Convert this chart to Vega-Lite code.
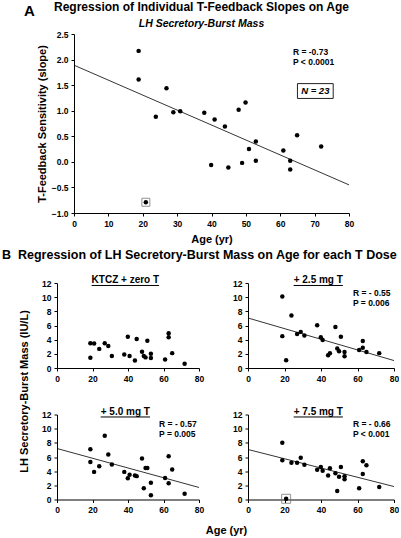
{
  "$schema": "https://vega.github.io/schema/vega-lite/v6.json",
  "padding": {"left": 2, "top": 0, "right": 0, "bottom": 0},
  "spacing": 3,
  "config": {
    "font": "Liberation Sans",
    "view": {"stroke": null},
    "axis": {"grid": false, "domainColor": "black", "tickColor": "black", "labelColor": "black", "titleColor": "black", "labelFontWeight": "bold", "labelFontSize": 8.5, "titleFontWeight": "bold", "titleFontSize": 11, "tickSize": 3, "labelPadding": 3, "domainWidth": 1, "tickWidth": 1, "labelOverlap": false, "labelFlush": false},
    "title": {"fontWeight": "bold", "color": "black"}
  },
  "datasets": {
    "a": [{"age":18.8,"slope":2.17},{"age":18.8,"slope":1.61},{"age":20.9,"slope":-0.79},{"age":23.8,"slope":0.88},{"age":26.9,"slope":1.44},{"age":28.9,"slope":0.97},{"age":30.9,"slope":0.99},{"age":37.9,"slope":0.96},{"age":39.9,"slope":-0.06},{"age":40.9,"slope":0.83},{"age":43.9,"slope":0.69},{"age":44.9,"slope":-0.11},{"age":47.9,"slope":1.02},{"age":48.9,"slope":-0.02},{"age":49.9,"slope":1.16},{"age":50.9,"slope":0.25},{"age":52.9,"slope":0.4},{"age":52.9,"slope":0.02},{"age":60.9,"slope":0.22},{"age":62.9,"slope":0.02},{"age":62.9,"slope":-0.15},{"age":64.9,"slope":0.52},{"age":71.9,"slope":0.3}],
    "zero": [{"age":18.8,"mass":3.5},{"age":18.8,"mass":1.45},{"age":20.9,"mass":3.45},{"age":23.8,"mass":2.7},{"age":26.9,"mass":3.5},{"age":28.9,"mass":3.1},{"age":30.9,"mass":1.7},{"age":37.9,"mass":1.9},{"age":39.9,"mass":4.4},{"age":40.9,"mass":1.7},{"age":43.9,"mass":1.05},{"age":44.9,"mass":4.1},{"age":47.9,"mass":2.3},{"age":48.9,"mass":1.7},{"age":49.9,"mass":1.5},{"age":50.9,"mass":3.85},{"age":52.9,"mass":2.0},{"age":52.9,"mass":1.4},{"age":60.9,"mass":1.2},{"age":62.9,"mass":4.9},{"age":62.9,"mass":4.35},{"age":64.9,"mass":2.1},{"age":71.9,"mass":0.6}],
    "t25": [{"age":18.8,"mass":10.1},{"age":18.8,"mass":4.5},{"age":20.9,"mass":1.1},{"age":23.8,"mass":7.4},{"age":26.9,"mass":4.8},{"age":28.9,"mass":5.1},{"age":30.9,"mass":4.6},{"age":37.9,"mass":6.05},{"age":39.9,"mass":4.35},{"age":40.9,"mass":3.95},{"age":43.9,"mass":1.8},{"age":44.9,"mass":2.1},{"age":47.9,"mass":5.8},{"age":48.9,"mass":2.75},{"age":49.9,"mass":2.35},{"age":50.9,"mass":4.4},{"age":52.9,"mass":2.25},{"age":52.9,"mass":1.65},{"age":60.9,"mass":2.55},{"age":62.9,"mass":3.8},{"age":62.9,"mass":2.85},{"age":64.9,"mass":2.25},{"age":71.9,"mass":2.1}],
    "t50": [{"age":18.8,"mass":7.1},{"age":18.8,"mass":5.3},{"age":20.9,"mass":3.9},{"age":23.8,"mass":4.7},{"age":26.9,"mass":9.0},{"age":28.9,"mass":6.35},{"age":30.9,"mass":4.95},{"age":37.9,"mass":3.9},{"age":39.9,"mass":3.0},{"age":40.9,"mass":3.5},{"age":43.9,"mass":3.4},{"age":44.9,"mass":3.3},{"age":47.9,"mass":5.8},{"age":48.9,"mass":1.6},{"age":49.9,"mass":4.45},{"age":50.9,"mass":4.45},{"age":52.9,"mass":2.35},{"age":52.9,"mass":0.6},{"age":60.9,"mass":3.05},{"age":62.9,"mass":6.1},{"age":62.9,"mass":2.3},{"age":64.9,"mass":4.25},{"age":71.9,"mass":0.8}],
    "t75": [{"age":18.8,"mass":8.0},{"age":18.8,"mass":5.55},{"age":20.9,"mass":0.1},{"age":23.8,"mass":5.2},{"age":26.9,"mass":5.2},{"age":28.9,"mass":5.9},{"age":30.9,"mass":4.9},{"age":37.9,"mass":4.2},{"age":39.9,"mass":4.6},{"age":40.9,"mass":4.05},{"age":43.9,"mass":3.4},{"age":44.9,"mass":4.4},{"age":47.9,"mass":3.7},{"age":48.9,"mass":1.2},{"age":49.9,"mass":3.2},{"age":50.9,"mass":4.6},{"age":52.9,"mass":3.3},{"age":52.9,"mass":2.85},{"age":60.9,"mass":1.6},{"age":62.9,"mass":5.4},{"age":62.9,"mass":3.6},{"age":64.9,"mass":4.85},{"age":71.9,"mass":1.75}]
  },
  "vconcat": [
    {
      "bounds": "flush",
      "spacing": 0,
      "hconcat": [
        {
          "width": 17, "height": 179,
          "title": {"text": "A", "fontSize": 15, "anchor": "start", "frame": "group", "dx": -33, "baseline": "alphabetic", "offset": 3.5},
          "data": {"values": [{}]},
          "mark": {"type": "text"},
          "encoding": {"text": {"value": ""}}
        },
        {
          "width": 275, "height": 179,
          "title": {"text": "Regression of Individual T-Feedback Slopes on Age", "subtitle": "LH Secretory-Burst Mass", "fontSize": 12, "subtitleFontSize": 10.5, "subtitleFontStyle": "italic", "subtitleFontWeight": "bold", "subtitleColor": "black", "subtitlePadding": 5, "offset": 0, "anchor": "middle", "frame": "group", "dx": -10},
          "layer": [
            {
              "data": {"name": "a"},
              "mark": {"type": "circle", "size": 20, "color": "black", "opacity": 1},
              "encoding": {
                "x": {"field": "age", "type": "quantitative", "scale": {"domain": [0, 80], "nice": false}, "axis": {"values": [0,10,20,30,40,50,60,70,80], "tickCount": 20, "format": "d", "title": "Age (yr)", "titlePadding": 6}},
                "y": {"field": "slope", "type": "quantitative", "scale": {"domain": [-1, 2.5], "nice": false}, "axis": {"values": [-1,-0.5,0,0.5,1,1.5,2,2.5], "tickCount": 20, "format": ".1f", "title": "T-Feedback Sensitivity (slope)", "titlePadding": 4}}
              }
            },
            {
              "data": {"name": "a"},
              "transform": [{"filter": "datum.age === 20.9"}],
              "mark": {"type": "square", "size": 64, "filled": false, "stroke": "#666", "strokeWidth": 1},
              "encoding": {"x": {"field": "age", "type": "quantitative"}, "y": {"field": "slope", "type": "quantitative"}}
            },
            {
              "data": {"values": [{"age": 0, "slope": 1.89}, {"age": 80, "slope": -0.45}]},
              "mark": {"type": "line", "color": "black", "strokeWidth": 0.8},
              "encoding": {"x": {"field": "age", "type": "quantitative"}, "y": {"field": "slope", "type": "quantitative"}}
            },
            {
              "data": {"values": [{"age": 63.7, "slope": 2.14, "label": "R = -0.73"}, {"age": 63.7, "slope": 1.95, "label": "P < 0.0001"}]},
              "mark": {"type": "text", "align": "left", "baseline": "middle", "fontSize": 8.5, "fontWeight": "bold", "color": "black"},
              "encoding": {"x": {"field": "age", "type": "quantitative"}, "y": {"field": "slope", "type": "quantitative"}, "text": {"field": "label"}}
            },
            {
              "data": {"values": [{"age": 65, "age2": 75.4, "slope": 1.24, "slope2": 1.53}]},
              "mark": {"type": "rect", "fill": "white", "stroke": "#222", "strokeWidth": 1},
              "encoding": {"x": {"field": "age", "type": "quantitative"}, "x2": {"field": "age2"}, "y": {"field": "slope", "type": "quantitative"}, "y2": {"field": "slope2"}}
            },
            {
              "data": {"values": [{"age": 70.2, "slope": 1.385, "label": "N = 23"}]},
              "mark": {"type": "text", "align": "center", "baseline": "middle", "fontSize": 9.5, "fontWeight": "bold", "fontStyle": "italic", "color": "black"},
              "encoding": {"x": {"field": "age", "type": "quantitative"}, "y": {"field": "slope", "type": "quantitative"}, "text": {"field": "label"}}
            }
          ]
        }
      ]
    },
    {
      "bounds": "flush",
      "columns": 2,
      "spacing": {"row": 46.5, "column": 49},
      "title": {"text": "B\u00a0 Regression of LH Secretory-Burst Mass on Age for each T Dose", "fontSize": 12.5, "anchor": "start", "frame": "group", "dx": -55, "baseline": "alphabetic", "offset": 4},
      "concat": [
        {
          "width": 142, "height": 85,
          "layer": [
            {
              "data": {"name": "zero"},
              "mark": {"type": "circle", "size": 20, "color": "black", "opacity": 1},
              "encoding": {
                "x": {"field": "age", "type": "quantitative", "scale": {"domain": [0, 80], "nice": false}, "axis": {"values": [0,20,40,60,80], "tickCount": 20, "format": "d", "title": null}},
                "y": {"field": "mass", "type": "quantitative", "scale": {"domain": [0, 12], "nice": false}, "axis": {"values": [0,2,4,6,8,10,12], "tickCount": 20, "format": "d", "title": null}}
              }
            },
            {
              "data": {"values": [{"age": 38.5, "mass": 12.4, "label": "KTCZ + zero T"}]},
              "mark": {"type": "text", "align": "center", "baseline": "middle", "fontSize": 10, "fontWeight": "bold", "color": "black"},
              "encoding": {"x": {"field": "age", "type": "quantitative"}, "y": {"field": "mass", "type": "quantitative"}, "text": {"field": "label"}}
            },
            {
              "data": {"values": [{"age": 19.5, "age2": 57.5, "mass": 11.65}]},
              "mark": {"type": "rule", "color": "black", "strokeWidth": 1},
              "encoding": {"x": {"field": "age", "type": "quantitative"}, "x2": {"field": "age2"}, "y": {"field": "mass", "type": "quantitative"}}
            }
          ]
        },
        {
          "width": 146, "height": 85,
          "layer": [
            {
              "data": {"name": "t25"},
              "mark": {"type": "circle", "size": 20, "color": "black", "opacity": 1},
              "encoding": {
                "x": {"field": "age", "type": "quantitative", "scale": {"domain": [0, 80], "nice": false}, "axis": {"values": [0,20,40,60,80], "tickCount": 20, "format": "d", "title": null}},
                "y": {"field": "mass", "type": "quantitative", "scale": {"domain": [0, 12], "nice": false}, "axis": {"values": [0,2,4,6,8,10,12], "tickCount": 20, "format": "d", "title": null}}
              }
            },
            {
              "data": {"values": [{"age": 0, "mass": 7.06}, {"age": 80, "mass": 1.05}]},
              "mark": {"type": "line", "color": "black", "strokeWidth": 0.8},
              "encoding": {"x": {"field": "age", "type": "quantitative"}, "y": {"field": "mass", "type": "quantitative"}}
            },
            {
              "data": {"values": [{"age": 57.5, "mass": 10.6, "label": "R = - 0.55"}, {"age": 57.5, "mass": 9.2, "label": "P = 0.006"}]},
              "mark": {"type": "text", "align": "left", "baseline": "middle", "fontSize": 8.5, "fontWeight": "bold", "color": "black"},
              "encoding": {"x": {"field": "age", "type": "quantitative"}, "y": {"field": "mass", "type": "quantitative"}, "text": {"field": "label"}}
            },
            {
              "data": {"values": [{"age": 38.5, "mass": 12.4, "label": "+ 2.5 mg T"}]},
              "mark": {"type": "text", "align": "center", "baseline": "middle", "fontSize": 10, "fontWeight": "bold", "color": "black"},
              "encoding": {"x": {"field": "age", "type": "quantitative"}, "y": {"field": "mass", "type": "quantitative"}, "text": {"field": "label"}}
            },
            {
              "data": {"values": [{"age": 25, "age2": 52, "mass": 11.65}]},
              "mark": {"type": "rule", "color": "black", "strokeWidth": 1},
              "encoding": {"x": {"field": "age", "type": "quantitative"}, "x2": {"field": "age2"}, "y": {"field": "mass", "type": "quantitative"}}
            }
          ]
        },
        {
          "width": 142, "height": 85,
          "layer": [
            {
              "data": {"name": "t50"},
              "mark": {"type": "circle", "size": 20, "color": "black", "opacity": 1},
              "encoding": {
                "x": {"field": "age", "type": "quantitative", "scale": {"domain": [0, 80], "nice": false}, "axis": {"values": [0,20,40,60,80], "tickCount": 20, "format": "d", "title": "Age (yr)", "titleX": 169, "titlePadding": 10.5}},
                "y": {"field": "mass", "type": "quantitative", "scale": {"domain": [0, 12], "nice": false}, "axis": {"values": [0,2,4,6,8,10,12], "tickCount": 20, "format": "d", "title": "LH Secretory-Burst Mass (IU/L)", "titleY": -23.5, "titlePadding": 12}}
              }
            },
            {
              "data": {"values": [{"age": 0, "mass": 7.2}, {"age": 80, "mass": 1.7}]},
              "mark": {"type": "line", "color": "black", "strokeWidth": 0.8},
              "encoding": {"x": {"field": "age", "type": "quantitative"}, "y": {"field": "mass", "type": "quantitative"}}
            },
            {
              "data": {"values": [{"age": 57.5, "mass": 10.6, "label": "R = - 0.57"}, {"age": 57.5, "mass": 9.2, "label": "P = 0.005"}]},
              "mark": {"type": "text", "align": "left", "baseline": "middle", "fontSize": 8.5, "fontWeight": "bold", "color": "black"},
              "encoding": {"x": {"field": "age", "type": "quantitative"}, "y": {"field": "mass", "type": "quantitative"}, "text": {"field": "label"}}
            },
            {
              "data": {"values": [{"age": 38.5, "mass": 12.4, "label": "+ 5.0 mg T"}]},
              "mark": {"type": "text", "align": "center", "baseline": "middle", "fontSize": 10, "fontWeight": "bold", "color": "black"},
              "encoding": {"x": {"field": "age", "type": "quantitative"}, "y": {"field": "mass", "type": "quantitative"}, "text": {"field": "label"}}
            },
            {
              "data": {"values": [{"age": 24.6, "age2": 52.4, "mass": 11.65}]},
              "mark": {"type": "rule", "color": "black", "strokeWidth": 1},
              "encoding": {"x": {"field": "age", "type": "quantitative"}, "x2": {"field": "age2"}, "y": {"field": "mass", "type": "quantitative"}}
            }
          ]
        },
        {
          "width": 146, "height": 85,
          "layer": [
            {
              "data": {"name": "t75"},
              "mark": {"type": "circle", "size": 20, "color": "black", "opacity": 1},
              "encoding": {
                "x": {"field": "age", "type": "quantitative", "scale": {"domain": [0, 80], "nice": false}, "axis": {"values": [0,20,40,60,80], "tickCount": 20, "format": "d", "title": null}},
                "y": {"field": "mass", "type": "quantitative", "scale": {"domain": [0, 12], "nice": false}, "axis": {"values": [0,2,4,6,8,10,12], "tickCount": 20, "format": "d", "title": null}}
              }
            },
            {
              "data": {"name": "t75"},
              "transform": [{"filter": "datum.age === 20.9"}],
              "mark": {"type": "square", "size": 81, "filled": false, "stroke": "#666", "strokeWidth": 1},
              "encoding": {"x": {"field": "age", "type": "quantitative"}, "y": {"field": "mass", "type": "quantitative"}}
            },
            {
              "data": {"values": [{"age": 0, "mass": 7.06}, {"age": 80, "mass": 1.83}]},
              "mark": {"type": "line", "color": "black", "strokeWidth": 0.8},
              "encoding": {"x": {"field": "age", "type": "quantitative"}, "y": {"field": "mass", "type": "quantitative"}}
            },
            {
              "data": {"values": [{"age": 57.5, "mass": 10.6, "label": "R = - 0.66"}, {"age": 57.5, "mass": 9.2, "label": "P < 0.001"}]},
              "mark": {"type": "text", "align": "left", "baseline": "middle", "fontSize": 8.5, "fontWeight": "bold", "color": "black"},
              "encoding": {"x": {"field": "age", "type": "quantitative"}, "y": {"field": "mass", "type": "quantitative"}, "text": {"field": "label"}}
            },
            {
              "data": {"values": [{"age": 38.5, "mass": 12.4, "label": "+ 7.5 mg T"}]},
              "mark": {"type": "text", "align": "center", "baseline": "middle", "fontSize": 10, "fontWeight": "bold", "color": "black"},
              "encoding": {"x": {"field": "age", "type": "quantitative"}, "y": {"field": "mass", "type": "quantitative"}, "text": {"field": "label"}}
            },
            {
              "data": {"values": [{"age": 25, "age2": 52, "mass": 11.65}]},
              "mark": {"type": "rule", "color": "black", "strokeWidth": 1},
              "encoding": {"x": {"field": "age", "type": "quantitative"}, "x2": {"field": "age2"}, "y": {"field": "mass", "type": "quantitative"}}
            }
          ]
        }
      ]
    }
  ]
}
